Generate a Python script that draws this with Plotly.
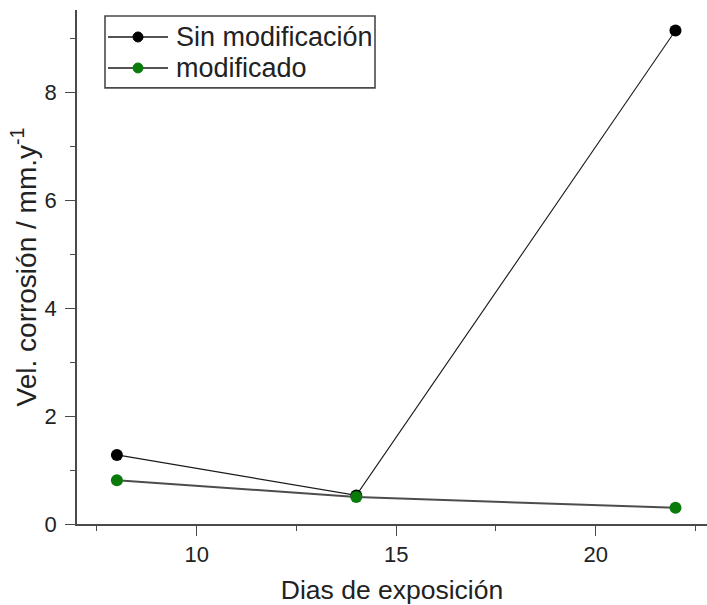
import plotly.graph_objects as go

# Exposure days and corrosion rate (mm/y) for both conditions
dias = [8, 14, 22]
sin_modificacion = [1.28, 0.53, 9.14]
modificado = [0.81, 0.50, 0.30]

serie_nombres = ["Sin modificación", "modificado"]
x_ticks = [10, 15, 20]
y_ticks = [0, 2, 4, 6, 8]

FONT = "Liberation Sans, Arial, sans-serif"
AXIS_COLOR = "#4a4a4a"
TEXT_COLOR = "#222222"
GREEN = "#0a7a0a"

fig = go.Figure()
fig.add_trace(go.Scatter(
    x=dias, y=sin_modificacion, mode="lines+markers", name=serie_nombres[0],
    line=dict(color="#1a1a1a", width=1.1),
    marker=dict(color="black", size=12, symbol="circle"),
    showlegend=False,
))
fig.add_trace(go.Scatter(
    x=dias, y=modificado, mode="lines+markers", name=serie_nombres[1],
    line=dict(color="#4d4d4d", width=2),
    marker=dict(color=GREEN, size=12, symbol="circle"),
    showlegend=False,
))

axis_common = dict(
    showline=True, linecolor=AXIS_COLOR, linewidth=1.6,
    ticks="outside", ticklen=10, tickwidth=1.4, tickcolor=AXIS_COLOR,
    showgrid=False, zeroline=False, mirror=False,
    tickfont=dict(family=FONT, size=22, color=TEXT_COLOR),
)

fig.update_xaxes(
    range=[7, 22.79], tickvals=x_ticks,
    minor=dict(dtick=2.5, tick0=0, ticks="outside", ticklen=5,
               tickwidth=1.4, tickcolor=AXIS_COLOR),
    title=dict(text="Dias de exposición",
               font=dict(family=FONT, size=26.5, color=TEXT_COLOR), standoff=16),
    **axis_common,
)
fig.update_yaxes(
    range=[0, 9.52], tickvals=y_ticks, ticklabelstandoff=4,
    minor=dict(dtick=1, tick0=0, ticks="outside", ticklen=5,
               tickwidth=1.4, tickcolor=AXIS_COLOR),
    title=dict(text="Vel. corrosión / mm.y<sup>-1</sup>",
               font=dict(family=FONT, size=28, color=TEXT_COLOR), standoff=0),
    **axis_common,
)

# Legend box drawn in paper coordinates
shapes = []
annotations = []
px_w, px_h = 630, 514.5  # plot area size in pixels
def px_to_paper(xp, yp):
    return (xp - 77) / px_w, 1 - (yp - 10) / px_h

x0, y0 = px_to_paper(105, 16)
x1, y1 = px_to_paper(375, 88)
shapes.append(dict(type="rect", xref="paper", yref="paper", x0=x0, y0=y1, x1=x1, y1=y0,
                   line=dict(color=AXIS_COLOR, width=1.6), fillcolor="white", layer="above"))
for i, (nombre, col) in enumerate(zip(serie_nombres, ["black", GREEN])):
    ypix = 37 + i * 31
    lx0, ly = px_to_paper(108, ypix)
    lx1, _ = px_to_paper(168, ypix)
    shapes.append(dict(type="line", xref="paper", yref="paper", x0=lx0, y0=ly, x1=lx1, y1=ly,
                       line=dict(color="#1a1a1a", width=1.4), layer="above"))
    cx, cy = px_to_paper(138, ypix)
    r = 5 / px_w
    rh = 5 / px_h
    shapes.append(dict(type="circle", xref="paper", yref="paper",
                       x0=cx - r, x1=cx + r, y0=cy - rh, y1=cy + rh,
                       line=dict(color=col, width=1), fillcolor=col, layer="above"))
    tx, ty = px_to_paper(174, ypix)
    annotations.append(dict(xref="paper", yref="paper", x=tx, y=ty, text=nombre,
                            showarrow=False, xanchor="left", yanchor="middle",
                            font=dict(family=FONT, size=27, color=TEXT_COLOR)))

fig.update_layout(
    width=707, height=605,
    margin=dict(l=77, r=0, t=10, b=80.5),
    paper_bgcolor="white", plot_bgcolor="white",
    shapes=shapes, annotations=annotations,
    showlegend=False,
)

fig.write_html("out.html")
